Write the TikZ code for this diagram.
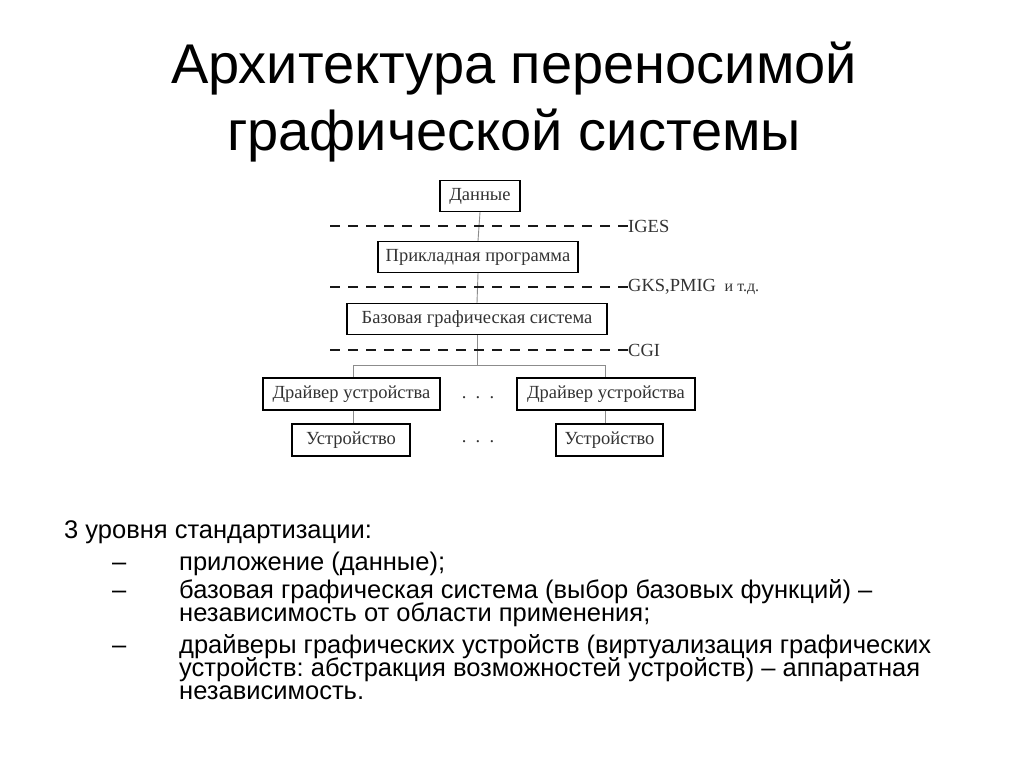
\documentclass[tikz,border=0pt]{standalone}
\usepackage{fontspec}
\setmainfont{Liberation Sans}
\newfontfamily\diagfont{Liberation Serif}
\frenchspacing
\begin{document}
\begin{tikzpicture}[x=1pt,y=-1pt,
  box/.style={draw=black,line width=1.4pt,inner sep=0pt,minimum height=31pt,font=\diagfont\fontsize{18.5}{20}\selectfont,text=black!80},
  conn/.style={draw=black!45,line width=0.9pt},
  level/.style={draw=black!90,line width=1.1pt,dash pattern=on 10pt off 8pt},
  lbl/.style={anchor=west,inner sep=0pt,font=\diagfont\fontsize{18.5}{20}\selectfont,text=black!80},
  dots/.style={inner sep=0pt,font=\diagfont\fontsize{18.5}{20}\selectfont,text=black!80},
  title/.style={anchor=base,inner sep=0pt,font=\fontsize{56}{60}\selectfont},
  body/.style={anchor=base west,inner sep=0pt,font=\fontsize{25.5}{28}\selectfont}]
\useasboundingbox[fill=white] (0,0) rectangle (1024,768);
% title
\node[title] (t1) at (514,83) {Архитектура переносимой};
\node[title] (t2) at (514,150) {графической системы};
% boxes
\node[box,minimum width=80pt] (data) at (480,196) {Данные};
\node[box,minimum width=200pt] (app) at (478,257) {Прикладная программа};
\node[box,minimum width=260pt] (base) at (477,319) {Базовая графическая система};
\node[box,minimum width=177pt,minimum height=32pt] (drvL) at (351.5,394) {Драйвер устройства};
\node[box,minimum width=178pt,minimum height=32pt] (drvR) at (606,394) {Драйвер устройства};
\node[box,minimum width=118pt,minimum height=32pt] (devL) at (351,440) {Устройство};
\node[box,minimum width=107pt,minimum height=32pt] (devR) at (609.5,440) {Устройство};
\node[dots] (d1) at (478,398) {.\ \ .\ \ .};
\node[dots] (d2) at (478,442) {.\ \ .\ \ .};
% level lines
\coordinate (l1a) at (330,226); \coordinate (l1b) at (628,226);
\coordinate (l2a) at (330,287); \coordinate (l2b) at (628,287);
\coordinate (l3a) at (330,350); \coordinate (l3b) at (628,350);
% connectors
\draw[conn] (data.south) -- (app.north);
\draw[conn] (app.south) -- (base.north);
\coordinate (br) at (base.south |- 0,365);
\coordinate (bL) at (353,365);
\coordinate (bR) at (605,365);
\draw[conn] (base.south) -- (br);
\draw[conn] (bL) -- (bR);
\draw[conn] (bL) -- (bL |- drvL.north);
\draw[conn] (bR) -- (bR |- drvR.north);
\draw[conn] (drvL.south -| bL) -- (bL |- devL.north);
\draw[conn] (drvR.south -| bR) -- (bR |- devR.north);
\draw[level] (l1a) -- (l1b);
\draw[level] (l2a) -- (l2b);
\draw[level] (l3a) -- (l3b);
\node[lbl] (iges) at (l1b) {IGES};
\node[lbl] (gks) at (l2b) {GKS,PMIG {\fontsize{16}{18}\selectfont\ и т.д.}};
\node[lbl] (cgi) at (l3b) {CGI};
% body text
\node[body] (h) at (64,538) {3 уровня стандартизации:};
\node[body] (m1) at (112,570) {–};
\node[body] (b1) at (179,570) {приложение (данные);};
\node[body] (m2) at (112,598) {–};
\node[body] (b2) at (179,598) {базовая графическая система (выбор базовых функций) –};
\node[body] (b2b) at (179,621) {независимость от области применения;};
\node[body] (m3) at (112,653) {–};
\node[body] (b3) at (179,653) {драйверы графических устройств (виртуализация графических};
\node[body] (b3b) at (179,676) {устройств: абстракция возможностей устройств) – аппаратная};
\node[body] (b3c) at (179,699) {независимость.};
\end{tikzpicture}
\end{document}
